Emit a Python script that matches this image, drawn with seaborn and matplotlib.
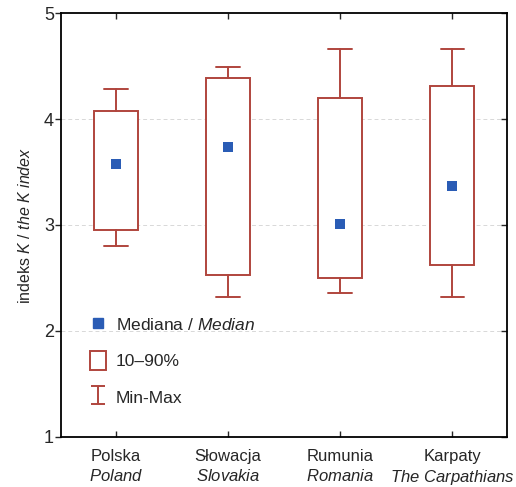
import matplotlib
matplotlib.use("Agg")
import matplotlib.pyplot as plt
import seaborn as sns
import pandas as pd
from matplotlib.patches import Rectangle
from matplotlib.lines import Line2D

categories = ["Polska", "Słowacja", "Rumunia", "Karpaty"]
categories_en = ["Poland", "Slovakia", "Romania", "The Carpathians"]
mins = [2.80, 2.32, 2.36, 2.32]
p10 = [2.95, 2.53, 2.50, 2.62]
medians = [3.58, 3.74, 3.01, 3.37]
p90 = [4.08, 4.39, 4.20, 4.31]
maxs = [4.28, 4.49, 4.66, 4.66]
yticks = [1, 2, 3, 4, 5]

RED = "#b0453d"
BLUE = "#2a5cb5"

sns.set_style("white")
plt.rcParams["font.family"] = ["Liberation Sans", "DejaVu Sans"]
plt.rcParams["mathtext.fontset"] = "custom"
plt.rcParams["mathtext.rm"] = "Liberation Sans"
plt.rcParams["mathtext.it"] = "Liberation Sans:italic"

fig = plt.figure(figsize=(5.16, 4.87), dpi=100)
ax = fig.add_axes([0.118, 0.103, 0.865, 0.870])

stats = []
for i, c in enumerate(categories):
    stats.append(dict(label=c, med=medians[i], q1=p10[i], q3=p90[i],
                      whislo=mins[i], whishi=maxs[i], fliers=[]))
ax.bxp(stats, positions=range(len(categories)), widths=0.39, capwidths=0.21,
       showfliers=False, patch_artist=True,
       boxprops=dict(facecolor="white", edgecolor=RED, linewidth=1.4),
       whiskerprops=dict(color=RED, linewidth=1.4),
       capprops=dict(color=RED, linewidth=1.4),
       medianprops=dict(linewidth=0), manage_ticks=False)

df = pd.DataFrame({"pos": range(len(categories)), "median": medians})
sns.scatterplot(data=df, x="pos", y="median", marker="s", s=44, color=BLUE,
                edgecolor=BLUE, linewidth=0, ax=ax, zorder=5)

ax.set_xlim(-0.49, 3.49)
ax.set_ylim(1, 5)
ax.set_yticks(yticks)
ax.set_yticklabels([str(t) for t in yticks], fontsize=13)
ax.set_xticks(range(len(categories)))
labels = [f"{c}\n" + r"$\mathit{" + e.replace(" ", r"\ ") + "}$"
          for c, e in zip(categories, categories_en)]
ax.set_xticklabels(labels, fontsize=12, linespacing=1.25)
ax.set_xlabel("")
ax.set_ylabel(r"indeks $\mathit{K}$ / $\mathit{the\ K\ index}$", fontsize=11.5, labelpad=8)

for y in [2, 3, 4]:
    ax.axhline(y, color="#d8d8d8", linestyle=(0, (4, 3)), linewidth=0.7, zorder=0)

for s in ax.spines.values():
    s.set_color("black")
    s.set_linewidth(1.3)

ax.tick_params(axis="x", bottom=True, top=True, direction="in", length=4, width=1,
               pad=9)
ax.tick_params(axis="y", left=True, right=True, direction="in", length=4, width=1,
               pad=5)
for t in ax.yaxis.get_major_ticks():
    t.tick1line.set_marker(matplotlib.markers.TICKLEFT)
    t.tick1line.set_markersize(4)

eb = ax.errorbar([-10], [3], yerr=[[0.5], [0.5]], fmt="none", ecolor=RED,
                 elinewidth=1.4, capsize=5, capthick=1.4)
handles = [
    Line2D([], [], marker="s", linestyle="none", color=BLUE, markersize=7),
    Rectangle((0, 0), 1, 1, facecolor="white", edgecolor=RED, linewidth=1.4),
    eb,
]
leg_labels = [r"Mediana / $\mathit{Median}$", "10–90%", "Min-Max"]
leg = ax.legend(handles, leg_labels, loc="lower left", bbox_to_anchor=(0.03, 0.035),
                frameon=False, fontsize=12.5, labelspacing=1.0,
                handlelength=0.9, handletextpad=0.6, handleheight=1.3)

fig.savefig("out.png", dpi=100)
